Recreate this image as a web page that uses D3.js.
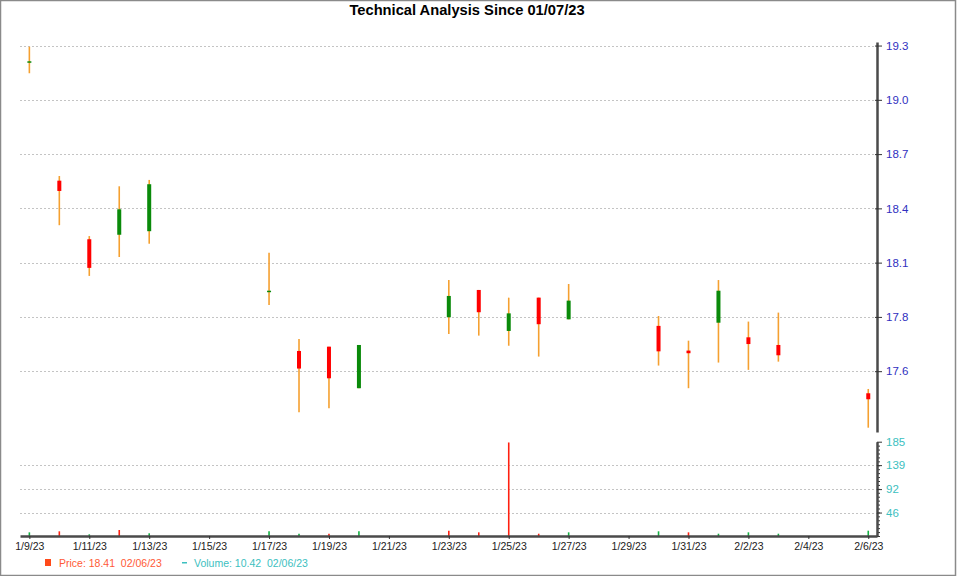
<!DOCTYPE html>
<html>
<head>
<meta charset="utf-8">
<script src="https://cdn.jsdelivr.net/npm/d3@7"></script>
<style>
  html, body { margin: 0; padding: 0; background: #fff; }
  svg { display: block; font-family: "Liberation Sans", Arial, sans-serif; }
</style>
</head>
<body>
<svg id="chart" width="960" height="576"></svg>
<script>
// ---- data ----
const dates  = ["2023-01-09","2023-01-10","2023-01-11","2023-01-12","2023-01-13",
                "2023-01-17","2023-01-18","2023-01-19","2023-01-20",
                "2023-01-23","2023-01-24","2023-01-25","2023-01-26","2023-01-27",
                "2023-01-30","2023-01-31","2023-02-01","2023-02-02","2023-02-03",
                "2023-02-06"];
const opens  = [19.205,18.574,18.261,18.285,18.304,17.980,17.664,17.687,17.465,17.844,17.990,17.771,17.949,17.833,17.798,17.666,17.815,17.737,17.696,17.438];
const highs  = [19.290,18.599,18.278,18.544,18.578,18.189,17.728,17.687,17.696,18.043,17.990,17.949,17.949,18.022,17.851,17.719,18.043,17.821,17.869,17.461];
const lows   = [19.148,18.336,18.065,18.166,18.237,17.910,17.337,17.358,17.465,17.755,17.746,17.692,17.634,17.833,17.586,17.465,17.602,17.563,17.607,17.254];
const closes = [19.212,18.519,18.108,18.421,18.555,17.986,17.570,17.518,17.696,17.958,17.871,17.865,17.807,17.933,17.662,17.652,17.986,17.701,17.641,17.406];
const volumes = [7.2,9.2,3.3,11.8,5.3,9.2,4.5,4.5,9.2,10.4,7.2,183.5,4.5,7.2,9.2,7.2,4.5,7.2,4.5,10.42];
const volumeUp = [true,false,true,false,true,true,true,false,true,false,false,false,false,true,true,false,true,true,true,true];

const priceTicks = [19.296,19.006,18.716,18.426,18.136,17.846,17.556];
const volumeTicks = [46,92,139,185];
const xTickDates = ["2023-01-09","2023-01-11","2023-01-13","2023-01-15","2023-01-17","2023-01-19",
                    "2023-01-21","2023-01-23","2023-01-25","2023-01-27","2023-01-29","2023-01-31",
                    "2023-02-02","2023-02-04","2023-02-06"];
const titleText = "Technical Analysis Since 01/07/23";
const legendPrice = "Price: 18.41  02/06/23";
const legendVolume = "Volume: 10.42  02/06/23";

// ---- layout ----
const parse = d3.utcParse("%Y-%m-%d");
const svg = d3.select("#chart");
const L = 20, R = 877;
const priceTop = 42, priceBottom = 432;
const volTop = 441.7, volBottom = 536;

const x = d3.scaleUtc()
  .domain([new Date(Date.UTC(2023,0,8,16,30)), new Date(Date.UTC(2023,1,6,7,0))])
  .range([L, R]);
const y = d3.scaleLinear().domain([17.231, 19.315]).range([priceBottom, priceTop]);
const yv = d3.scaleLinear().domain([0, 185]).range([volBottom, volTop]);

const data = dates.map((d, i) => ({
  date: parse(d), open: opens[i], high: highs[i], low: lows[i], close: closes[i],
  vol: volumes[i], volUp: volumeUp[i]
}));

// border
svg.append("rect").attr("x", 0.5).attr("y", 0.5).attr("width", 955).attr("height", 575)
  .attr("fill", "none").attr("stroke", "#8a8a8a").attr("stroke-width", 1.5);

// title
svg.append("text").attr("x", 467).attr("y", 15).attr("text-anchor", "middle")
  .attr("font-size", 14.7).attr("font-weight", "bold").attr("fill", "#000").text(titleText);

// gridlines price
svg.append("g").selectAll("line").data(priceTicks).join("line")
  .attr("x1", L).attr("x2", R)
  .attr("y1", d => Math.round(y(d)) + 0.5).attr("y2", d => Math.round(y(d)) + 0.5)
  .attr("stroke", "#c4c4c4").attr("stroke-dasharray", "2,2");
// gridlines volume
svg.append("g").selectAll("line").data(volumeTicks.filter(d => d < 185)).join("line")
  .attr("x1", L).attr("x2", R)
  .attr("y1", d => Math.round(yv(d)) + 0.5).attr("y2", d => Math.round(yv(d)) + 0.5)
  .attr("stroke", "#c4c4c4").attr("stroke-dasharray", "2,2");

// candles
const cg = svg.append("g");
const cx = d => x(d.date);
cg.selectAll("line.wick").data(data).join("line").attr("class", "wick")
  .attr("x1", cx).attr("x2", cx)
  .attr("y1", d => y(d.high)).attr("y2", d => y(d.low))
  .attr("stroke", "#f5a030").attr("stroke-width", 1.6);
cg.selectAll("rect.body").data(data).join("rect").attr("class", "body")
  .attr("x", d => cx(d) - 2).attr("width", 4)
  .attr("y", d => y(Math.max(d.open, d.close)))
  .attr("height", d => Math.max(1.5, Math.abs(y(d.open) - y(d.close))))
  .attr("fill", d => d.close >= d.open ? "#0a8a0a" : "#ff0000");

// volume bars
svg.append("g").selectAll("line").data(data).join("line")
  .attr("x1", cx).attr("x2", cx)
  .attr("y1", volBottom).attr("y2", d => yv(d.vol))
  .attr("stroke", d => d.volUp ? "#10b040" : "#ff2010").attr("stroke-width", 1.6);

// price axis
const pa = svg.append("g").attr("transform", `translate(${R},0)`)
  .call(d3.axisRight(y).tickValues(priceTicks).tickFormat(d3.format(".1f")).tickSize(5).tickSizeOuter(0).tickPadding(4));
pa.select(".domain").attr("stroke", "#4a4a4a").attr("stroke-width", 2.5);
pa.selectAll(".tick line").attr("stroke", "#333").attr("x1", -2);
pa.selectAll(".tick text").attr("fill", "#3030c0").attr("font-size", 11.5)
  .attr("font-family", "'Liberation Sans', Arial, sans-serif");

// volume axis
const minor = d3.range(0, 24).map(i => i * 185 / 24);
const vaMinor = svg.append("g").attr("transform", `translate(${R},0)`)
  .call(d3.axisRight(yv).tickValues(minor).tickFormat("").tickSize(3).tickSizeOuter(0));
vaMinor.select(".domain").remove();
vaMinor.selectAll(".tick line").attr("stroke", "#333");
const va = svg.append("g").attr("transform", `translate(${R},0)`)
  .call(d3.axisRight(yv).tickValues(volumeTicks).tickFormat(d3.format("d")).tickSize(5).tickSizeOuter(0).tickPadding(4));
va.select(".domain").attr("stroke", "#4a4a4a").attr("stroke-width", 2.5);
va.selectAll(".tick line").attr("stroke", "#333");
va.selectAll(".tick text").attr("fill", "#3cc0c0").attr("font-size", 11.5)
  .attr("font-family", "'Liberation Sans', Arial, sans-serif");

// x axis
const xa = svg.append("g").attr("transform", `translate(0,${volBottom})`)
  .call(d3.axisBottom(x).tickValues(xTickDates.map(parse)).tickFormat(d3.utcFormat("%-m/%-d/%y"))
    .tickSize(3).tickSizeOuter(0).tickPadding(4));
xa.select(".domain").attr("stroke", "#4a4a4a").attr("stroke-width", 2.5);
xa.selectAll(".tick line").attr("stroke", "#333");
xa.selectAll(".tick text").attr("fill", "#222").attr("font-size", 10.5)
  .attr("font-family", "'Liberation Sans', Arial, sans-serif");

// legend
const lg = svg.append("g").attr("font-size", 10.5);
lg.append("rect").attr("x", 45).attr("y", 559).attr("width", 6).attr("height", 7).attr("fill", "#ff4a1a");
lg.append("text").attr("x", 59).attr("y", 567).attr("fill", "#ff5a36")
  .style("white-space", "pre").text(legendPrice);
lg.append("rect").attr("x", 182).attr("y", 562).attr("width", 5).attr("height", 1.5).attr("fill", "#3cc0c0");
lg.append("text").attr("x", 194).attr("y", 567).attr("fill", "#3cc0c0")
  .style("white-space", "pre").text(legendVolume);
</script>
</body>
</html>
